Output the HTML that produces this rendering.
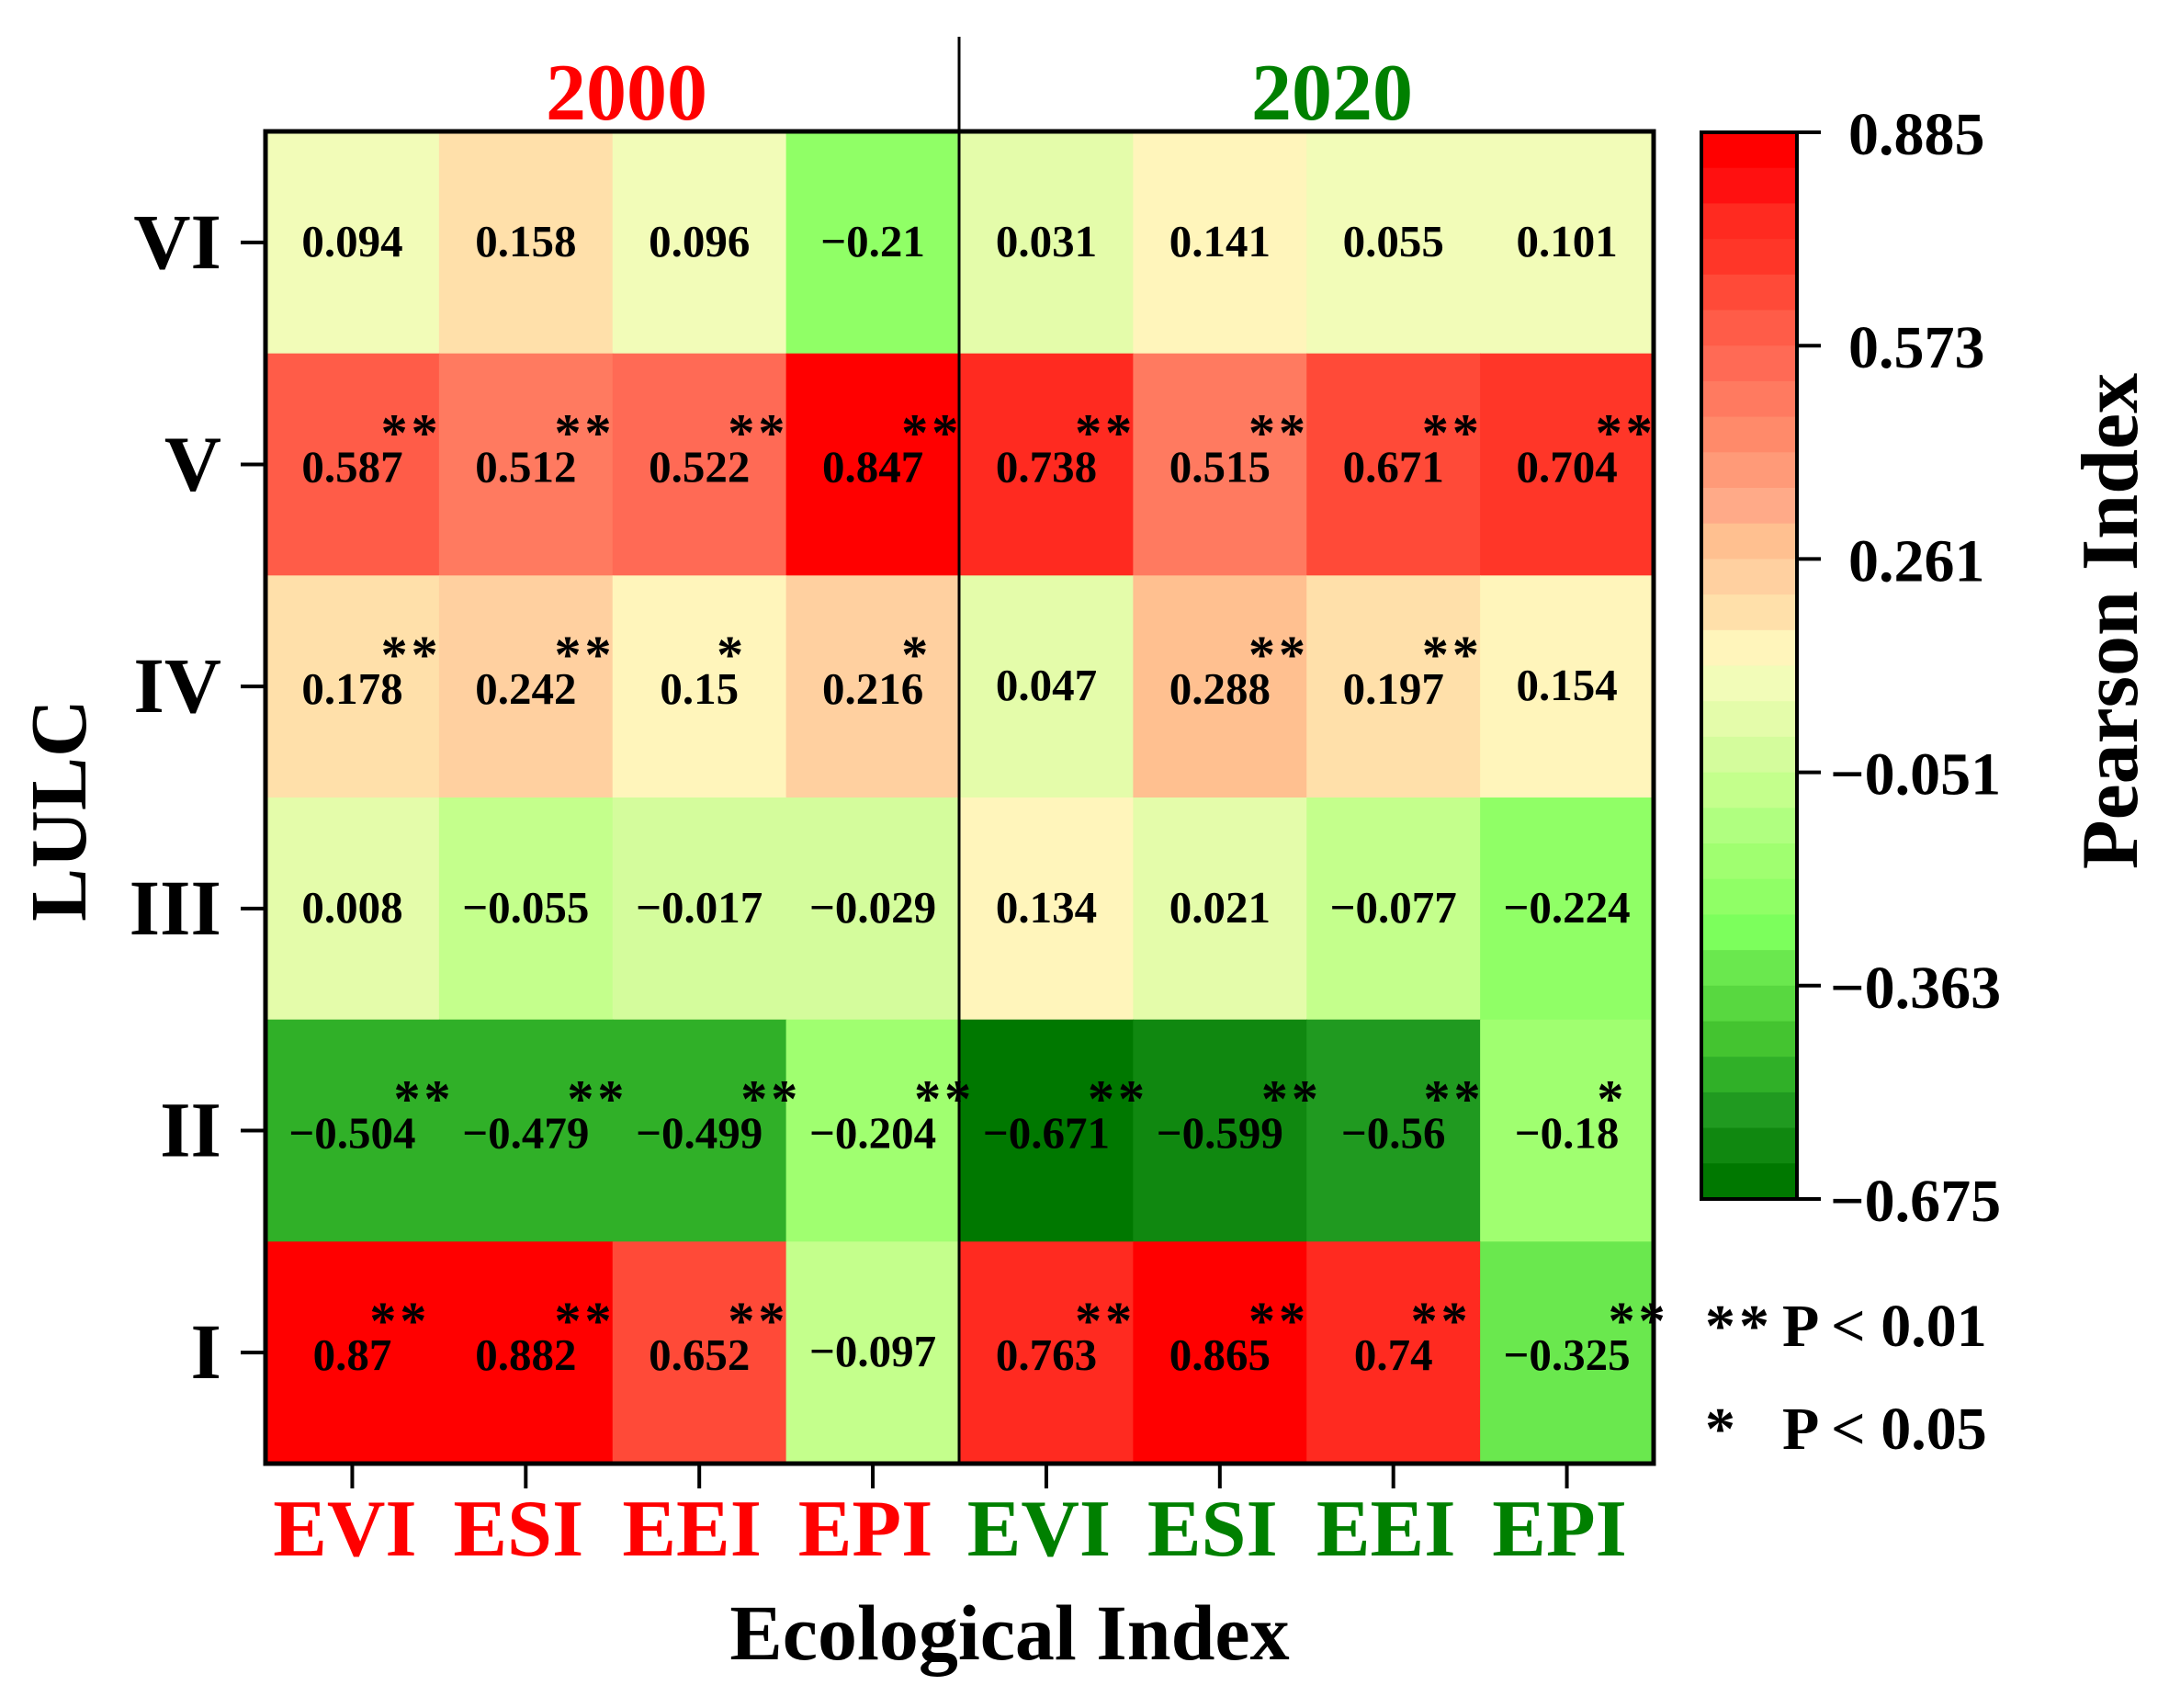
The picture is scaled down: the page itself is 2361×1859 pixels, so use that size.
<!DOCTYPE html>
<html><head><meta charset="utf-8"><style>
html,body{margin:0;padding:0;background:#fff;}
svg{display:block;}
text{font-family:"Liberation Serif","DejaVu Serif",serif;font-weight:bold;}
</style></head><body>
<svg id="s" width="2361" height="1859" viewBox="0 0 2361 1859" xmlns="http://www.w3.org/2000/svg">
<g id="cells"></g>
<g id="bar"></g>
<rect x="289" y="143" width="1511" height="1450" fill="none" stroke="#000" stroke-width="5"/>
<line x1="1044" y1="40" x2="1044" y2="1593" stroke="#000" stroke-width="3"/>
<rect x="1852" y="144" width="104" height="1161" fill="none" stroke="#000" stroke-width="4"/>
<g id="ticks" stroke="#000" stroke-width="4"></g>
<g id="txt"></g>
<text x="682" y="130" font-size="88" fill="#ff0000" text-anchor="middle">2000</text>
<text x="1450" y="130" font-size="88" fill="#008000" text-anchor="middle">2020</text>
<text x="1099" y="1806" font-size="86" fill="#000" text-anchor="middle">Ecological Index</text>
<text transform="translate(93,882) rotate(-90)" font-size="87" fill="#000" text-anchor="middle">LULC</text>
<text transform="translate(2326,676) rotate(-90)" font-size="88" fill="#000" text-anchor="middle">Pearson Index</text>
<text x="1856" y="1465" font-size="66" fill="#000" letter-spacing="4">**</text>
<text x="1940" y="1465" font-size="66" fill="#000">P &lt; 0.01</text>
<text x="1856" y="1577" font-size="66" fill="#000">*</text>
<text x="1940" y="1577" font-size="66" fill="#000">P &lt; 0.05</text>
</svg>
<script>
var NS="http://www.w3.org/2000/svg";
function el(p,t,a,txt){var e=document.createElementNS(NS,t);for(var k in a)e.setAttribute(k,a[k]);if(txt!==undefined)e.textContent=txt;p.appendChild(e);return e;}
var bands=["#ff0000","#ff1010","#ff2a20","#ff3628","#ff4a38","#ff5c48","#ff6a55","#ff7a60","#ff8a6a","#ff9a78","#ffaa88","#ffc090","#ffd0a0","#ffe0aa","#fff5bb","#f2fcb8","#e4fcaa","#d4fc9c","#c4ff8c","#b0ff80","#a0ff70","#90ff66","#7cff5c","#6ae84e","#58d840","#44c430","#30b028","#209a20","#108810","#007800"];
var vmax=0.885,vmin=-0.675;
function col(v){var i=Math.floor((vmax-v)/(vmax-vmin)*30);if(i<0)i=0;if(i>29)i=29;return bands[i];}
var bar=document.getElementById("bar");
var bh=1161/30;
for(var i=0;i<30;i++)el(bar,"rect",{x:1852,y:144+i*bh,width:104,height:bh+0.6,fill:bands[i]});
var ticks=document.getElementById("ticks"),txt=document.getElementById("txt");
var tl=["0.885","0.573","0.261","\u22120.051","\u22120.363","\u22120.675"];
for(var i=0;i<6;i++){var y=144+i*232.2;el(ticks,"line",{x1:1956,y1:y,x2:1982,y2:y});
el(txt,"text",{x:tl[i][0]=="\u2212"?1992:2012,y:y+24,"font-size":66,fill:"#000"},tl[i]);}
var data=[
[["0.094",""],["0.158",""],["0.096",""],["\u22120.21",""],["0.031",""],["0.141",""],["0.055",""],["0.101",""]],
[["0.587","**"],["0.512","**"],["0.522","**"],["0.847","**"],["0.738","**"],["0.515","**"],["0.671","**"],["0.704","**"]],
[["0.178","**"],["0.242","**"],["0.15","*"],["0.216","*"],["0.047",""],["0.288","**"],["0.197","**"],["0.154",""]],
[["0.008",""],["\u22120.055",""],["\u22120.017",""],["\u22120.029",""],["0.134",""],["0.021",""],["\u22120.077",""],["\u22120.224",""]],
[["\u22120.504","**"],["\u22120.479","**"],["\u22120.499","**"],["\u22120.204","**"],["\u22120.671","**"],["\u22120.599","**"],["\u22120.56","**"],["\u22120.18","*"]],
[["0.87","**"],["0.882","**"],["0.652","**"],["\u22120.097",""],["0.763","**"],["0.865","**"],["0.74","**"],["\u22120.325","**"]]];
var cells=document.getElementById("cells");
var cw=1511/8,rh=1450/6,rows=["VI","V","IV","III","II","I"];
var xl=["EVI","ESI","EEI","EPI","EVI","ESI","EEI","EPI"];
for(var r=0;r<6;r++){var cy=143+rh*(r+0.5);
el(ticks,"line",{x1:262,y1:cy,x2:289,y2:cy});
el(txt,"text",{x:241,y:cy+28,"font-size":86,fill:"#000","text-anchor":"end"},rows[r]);
for(var c=0;c<8;c++){var d=data[r][c],v=parseFloat(d[0].replace("\u2212","-"));var x=289+cw*c;
el(cells,"rect",{x:x,y:143+rh*r,width:cw+0.8,height:rh+0.8,fill:col(v)});
var cx=x+cw/2;var by=cy+(d[1]?19:15);
var t=el(txt,"text",{x:cx,y:by,"font-size":49,fill:"#000","text-anchor":"middle"},d[0]);
var w=t.getComputedTextLength?t.getComputedTextLength():d[0].length*23;
if(d[1])el(txt,"text",{x:cx+w/2-24,y:by-34,"font-size":58,fill:"#000","letter-spacing":4},d[1]);}}
for(var c=0;c<8;c++){var cx=289+cw*(c+0.5);
el(ticks,"line",{x1:cx,y1:1593,x2:cx,y2:1620});
el(txt,"text",{x:cx-8,y:1693,"font-size":88,fill:c<4?"#ff0000":"#008000","text-anchor":"middle"},xl[c]);}
</script>
</body></html>
